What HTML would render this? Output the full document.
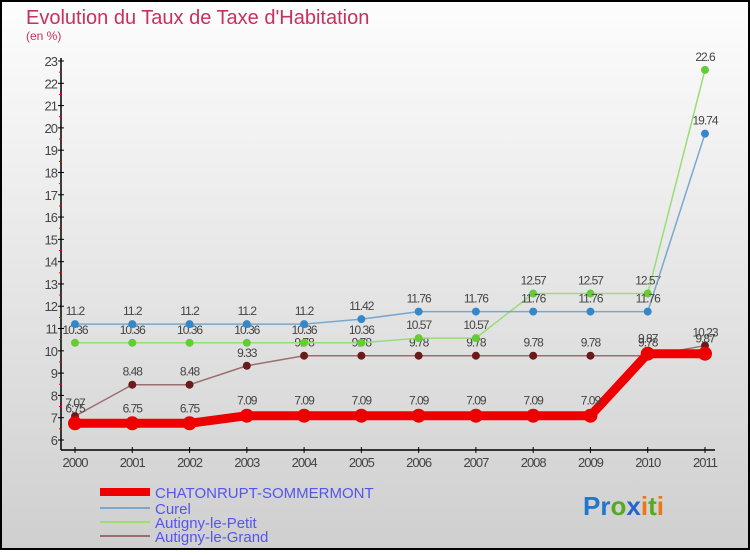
<!DOCTYPE html>
<html><head><meta charset="utf-8"><style>
html,body{margin:0;padding:0}
body{width:750px;height:550px;overflow:hidden;font-family:"Liberation Sans",sans-serif}
</style></head><body>
<svg id="c" width="750" height="550" xmlns="http://www.w3.org/2000/svg">
<defs><linearGradient id="bg" x1="0" y1="0" x2="0" y2="1"><stop offset="0" stop-color="#fdfdfd"/><stop offset="1" stop-color="#cfcfcf"/></linearGradient></defs>
<rect x="1" y="1" width="748" height="548" fill="url(#bg)" stroke="#000" stroke-width="2"/>
<text x="26" y="24" font-size="20" fill="#c8305f">Evolution du Taux de Taxe d'Habitation</text>
<text x="26" y="40" font-size="12" fill="#c8305f">(en %)</text>
<g id="axes"></g><g id="series"></g>
<g>
<rect x="100" y="488" width="50" height="8" fill="#e00"/>
<text x="155" y="498" font-size="15" fill="#5555ee">CHATONRUPT-SOMMERMONT</text>
<rect x="100" y="507" width="50" height="2" fill="#7aa8cc"/>
<text x="155" y="514" font-size="15" fill="#5555ee">Curel</text>
<rect x="100" y="521" width="50" height="2" fill="#99dd77"/>
<text x="155" y="528" font-size="15" fill="#5555ee">Autigny-le-Petit</text>
<rect x="100" y="535" width="50" height="2" fill="#9a6e6e"/>
<text x="155" y="542" font-size="15" fill="#5555ee">Autigny-le-Grand</text>
</g>
<g font-size="26" font-weight="bold">
<text x="583" y="515"><tspan fill="#2277cc">Pr</tspan><tspan fill="#55aa22">o</tspan><tspan fill="#2266cc">x</tspan><tspan fill="#ee7711">i</tspan><tspan fill="#55aa22">t</tspan><tspan fill="#ee7711">i</tspan></text>
</g>
</svg>
<script>
const years=[2000,2001,2002,2003,2004,2005,2006,2007,2008,2009,2010,2011];
const chaton=[6.75,6.75,6.75,7.09,7.09,7.09,7.09,7.09,7.09,7.09,9.87,9.87];
const curel=[11.2,11.2,11.2,11.2,11.2,11.42,11.76,11.76,11.76,11.76,11.76,19.74];
const petit=[10.36,10.36,10.36,10.36,10.36,10.36,10.57,10.57,12.57,12.57,12.57,22.6];
const grand=[7.07,8.48,8.48,9.33,9.78,9.78,9.78,9.78,9.78,9.78,9.78,10.23];
const yTicks=[6,7,8,9,10,11,12,13,14,15,16,17,18,19,20,21,22,23];
const NS="http://www.w3.org/2000/svg";
const xs=i=>75+i*(630/11);
const ys=v=>440-(v-6)*(379/17);
function mk(tag,attrs,parent){const e=document.createElementNS(NS,tag);for(const k in attrs)e.setAttribute(k,attrs[k]);parent.appendChild(e);return e;}
const ax=document.getElementById('axes');
const yl=mk('line',{x1:61,y1:58,x2:61,y2:450,stroke:'#000','stroke-width':1.5},ax);


const xl=mk('line',{x1:61,y1:450,x2:715,y2:450,stroke:'#000','stroke-width':1.5},ax);


yTicks.forEach(v=>{
 mk('line',{x1:58,y1:ys(v),x2:64,y2:ys(v),stroke:'#000'},ax);
 if(v<23)mk('line',{x1:59,y1:ys(v+0.5),x2:62,y2:ys(v+0.5),stroke:'#e00'},ax);
 const t=mk('text',{x:57,y:ys(v)+5,'text-anchor':'end','font-size':13,fill:'#444','letter-spacing':'-1'},ax);
 t.textContent=v;
 
 
});
years.forEach((y,i)=>{
 mk('line',{x1:xs(i),y1:447,x2:xs(i),y2:453,stroke:'#000'},ax);
 const t=mk('text',{x:xs(i),y:467,'text-anchor':'middle','font-size':13,fill:'#444','letter-spacing':'-1'},ax);
 t.textContent=y;
 
 
});
const sg=document.getElementById('series');
function draw(vals,color,dot,lw,r,name){
 const g=mk('g',{},sg);
 
 
 mk('polyline',{points:vals.map((v,i)=>xs(i)+','+ys(v)).join(' '),fill:'none',stroke:color,'stroke-width':lw,'stroke-linejoin':'round'},g);
 vals.forEach((v,i)=>{
  const c=mk('circle',{cx:xs(i),cy:ys(v),r:r,fill:dot},g);
  
  
  const t=mk('text',{x:xs(i),y:ys(v)-9-(r>5?2:0),'text-anchor':'middle','font-size':12,fill:'#444','letter-spacing':'-1'},g);
  t.textContent=v;
 });
}
draw(grand,'#9a6e6e','#6a1a1a',1.5,4,'series-autigny-grand');
draw(petit,'#99dd77','#66cc33',1.5,4,'series-autigny-petit');
draw(curel,'#7aa8cc','#3388cc',1.5,4,'series-curel');
draw(chaton,'#ee0000','#ee0000',9,7,'series-chatonrupt');
</script>
</body></html>
